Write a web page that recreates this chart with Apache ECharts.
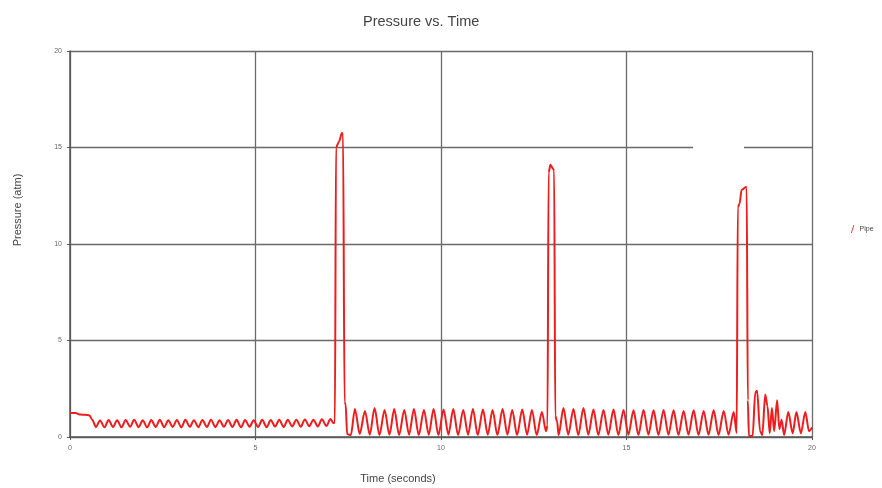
<!DOCTYPE html>
<html>
<head>
<meta charset="utf-8">
<script src="https://cdn.jsdelivr.net/npm/echarts@6/dist/echarts.min.js"></script>
<style>
  html, body { margin: 0; padding: 0; background: #fff; }
  #chart { width: 882px; height: 488px; }
</style>
</head>
<body>
<div id="chart"></div>
<script>
// time (s), pressure (atm), segment by segment
const startSeg = [[0, 1.25], [0.15, 1.24], [0.28, 1.16], [0.4, 1.15], [0.52, 1.13], [0.6, 0.9]];
const oscA = [
  [0.70, 0.52], [0.81, 0.86], [0.93, 0.50], [1.04, 0.88], [1.16, 0.52], [1.27, 0.87], [1.39, 0.50],
  [1.50, 0.88], [1.62, 0.53], [1.73, 0.89], [1.85, 0.51], [1.96, 0.87], [2.08, 0.50], [2.19, 0.88],
  [2.31, 0.52], [2.42, 0.89], [2.54, 0.51], [2.65, 0.87], [2.77, 0.52], [2.88, 0.88], [3.00, 0.50],
  [3.11, 0.89], [3.23, 0.53], [3.34, 0.87], [3.46, 0.51], [3.57, 0.88], [3.69, 0.52], [3.80, 0.90],
  [3.92, 0.51], [4.03, 0.87], [4.15, 0.53], [4.26, 0.88], [4.38, 0.52], [4.49, 0.89], [4.61, 0.50],
  [4.72, 0.88], [4.84, 0.53], [4.95, 0.87], [5.07, 0.52], [5.18, 0.89], [5.30, 0.51], [5.41, 0.88],
  [5.53, 0.54], [5.64, 0.90], [5.76, 0.52], [5.87, 0.89], [5.99, 0.55], [6.10, 0.90], [6.22, 0.53],
  [6.33, 0.91], [6.45, 0.56], [6.56, 0.90], [6.68, 0.55], [6.79, 0.92], [6.91, 0.57], [7.02, 0.93],
  [7.10, 0.72]
];
const spikeOne = [[7.14, 0.75], [7.17, 15.0], [7.25, 15.3], [7.33, 15.75], [7.36, 15.7], [7.40, 1.8], [7.43, 1.7], [7.47, 0.15], [7.57, 0.1]];
const oscB = [
  [7.68, 1.45], [7.81, 0.15], [7.95, 1.35], [8.08, 0.12], [8.21, 1.5], [8.34, 0.1], [8.48, 1.4],
  [8.61, 0.12], [8.74, 1.45], [8.87, 0.1], [9.01, 1.4], [9.14, 0.12], [9.27, 1.45], [9.40, 0.1],
  [9.54, 1.4], [9.67, 0.12], [9.80, 1.45], [9.93, 0.1], [10.07, 1.42], [10.20, 0.12], [10.33, 1.45],
  [10.46, 0.1], [10.60, 1.4], [10.73, 0.12], [10.86, 1.45], [10.99, 0.1], [11.13, 1.42], [11.26, 0.12],
  [11.39, 1.4], [11.52, 0.1], [11.66, 1.45], [11.79, 0.12], [11.92, 1.4], [12.05, 0.1], [12.19, 1.42],
  [12.32, 0.12], [12.45, 1.4], [12.58, 0.1], [12.72, 1.3]
];
const spikeTwo = [[12.83, 0.3], [12.87, 0.6], [12.90, 13.7], [12.95, 14.1], [13.02, 13.9], [13.05, 13.8], [13.08, 1.1], [13.13, 0.8], [13.17, 0.1]];
const oscC = [
  [13.30, 1.5], [13.43, 0.12], [13.57, 1.45], [13.70, 0.1], [13.84, 1.5], [13.97, 0.12], [14.11, 1.42],
  [14.24, 0.1], [14.38, 1.4], [14.51, 0.12], [14.65, 1.42], [14.78, 0.1], [14.92, 1.4], [15.05, 0.12],
  [15.19, 1.38], [15.32, 0.1], [15.46, 1.4], [15.59, 0.12], [15.73, 1.38], [15.86, 0.1], [16.00, 1.4],
  [16.13, 0.12], [16.27, 1.38], [16.40, 0.1], [16.54, 1.35], [16.67, 0.12], [16.81, 1.38], [16.94, 0.1],
  [17.08, 1.35], [17.21, 0.12], [17.35, 1.38], [17.48, 0.1], [17.62, 1.35], [17.75, 0.12], [17.89, 1.3]
];
const spikeThree = [[17.97, 0.2], [18.00, 11.9], [18.05, 12.1], [18.10, 12.8], [18.22, 12.95], [18.24, 12.9], [18.27, 1.9], [18.30, 0.05]];
const oscD = [
  [18.40, 0.05], [18.47, 2.3], [18.52, 2.4], [18.60, 0.3], [18.66, 0.1], [18.74, 2.2], [18.80, 1.6],
  [18.86, 0.2], [18.92, 1.5], [18.98, 0.3], [19.06, 1.9], [19.12, 0.4], [19.18, 0.9], [19.25, 0.1],
  [19.36, 1.3], [19.48, 0.2], [19.58, 1.3], [19.70, 0.2], [19.82, 1.3], [19.92, 0.3], [20.0, 0.5]
];
const axisTicks = [0, 5, 10, 15, 20];

const pipeData = startSeg.concat(oscA, spikeOne, oscB, spikeTwo, oscC, spikeThree, oscD);

const chart = echarts.init(document.getElementById('chart'));
const axisCommon = {
  type: 'value',
  min: axisTicks[0],
  max: axisTicks[axisTicks.length - 1],
  interval: axisTicks[1] - axisTicks[0],
  axisLine: { show: true, lineStyle: { color: '#555', width: 1.5 } },
  axisTick: { show: true, length: 3, lineStyle: { color: '#555' } },
  axisLabel: { fontSize: 7, color: '#666', fontFamily: 'Liberation Sans', margin: 8 },
  splitLine: { show: true, lineStyle: { color: '#6a6a6a', width: 1.3 } }
};

chart.setOption({
  animation: false,
  backgroundColor: '#fff',
  title: {
    text: 'Pressure vs. Time',
    left: 358,
    top: 9,
    textStyle: { fontSize: 14.5, fontWeight: 'normal', color: '#444', fontFamily: 'Liberation Sans' }
  },
  legend: {
    data: ['Pipe'],
    left: 846,
    top: 220,
    icon: 'path://M3 0 L4 0 L1 10 L0 10 Z',
    itemWidth: 4,
    itemHeight: 8,
    itemGap: 4,
    textStyle: { fontSize: 7, color: '#444', fontFamily: 'Liberation Sans' }
  },
  grid: { left: 70, right: 70, top: 51, bottom: 51 },
  xAxis: Object.assign({}, axisCommon),
  yAxis: Object.assign({}, axisCommon),
  graphic: [
    {
      type: 'text', x: 18, y: 210, rotation: Math.PI / 2,
      style: { text: 'Pressure (atm)', fontSize: 11, fill: '#444', fontFamily: 'Liberation Sans', align: 'center', verticalAlign: 'middle' }
    },
    {
      type: 'text', x: 398, y: 479,
      style: { text: 'Time (seconds)', fontSize: 11, fill: '#444', fontFamily: 'Liberation Sans', align: 'center', verticalAlign: 'middle' }
    },
    // the gap in the 15 atm grid line
    { type: 'rect', shape: { x: 693, y: 144, width: 51, height: 8 }, style: { fill: '#fff' }, z: 1 }
  ],
  series: [
    {
      name: 'Pipe',
      type: 'line',
      data: pipeData,
      showSymbol: false,
      smooth: 0.3,
      smoothMonotone: 'x',
      color: '#ee1c1c',
      lineStyle: { color: '#ee1c1c', width: 2 }
    }
  ]
});
</script>
</body>
</html>
